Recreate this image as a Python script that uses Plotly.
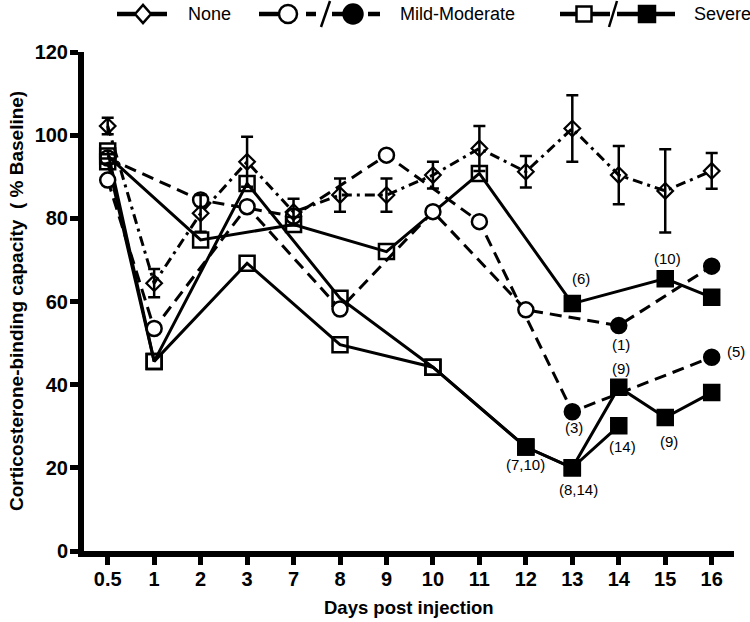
import plotly.graph_objects as go

# ---------------- data ----------------
DAYS = ["0.5", "1", "2", "3", "7", "8", "9", "10", "11", "12", "13", "14", "15", "16"]
Y_TICKS = [0, 20, 40, 60, 80, 100, 120]

# "None" group: mean and error
NONE_MEAN = [102.2, 64.4, 81.2, 93.6, 81.5, 85.6, 85.6, 90.4, 96.8, 91.2, 101.6, 90.4, 86.6, 91.4]
NONE_ERR = [2.0, 3.4, 4.4, 6.0, 3.2, 4.0, 4.0, 3.2, 5.4, 3.8, 8.0, 7.0, 10.0, 4.3]

# Mild-Moderate (dashed, circles) - open then filled
MM_A_DAYS = ["0.5", "2", "7", "9", "11", "13", "16"]
MM_A_VALS = [94.5, 84.4, 80.5, 95.2, 79.2, 33.5, 46.6]
MM_A_FILLED = [False, False, False, False, False, True, True]

MM_B_DAYS = ["0.5", "1", "3", "8", "10", "12", "14", "16"]
MM_B_VALS = [89.2, 53.5, 82.8, 58.2, 81.6, 58.0, 54.2, 68.5]
MM_B_FILLED = [False, False, False, False, False, False, True, True]

# Severe (solid, squares) - open then filled
SV_A_DAYS = ["0.5", "2", "7", "9", "11", "13", "15", "16"]
SV_A_VALS = [95.0, 74.8, 78.5, 72.0, 90.8, 59.5, 65.5, 61.0]
SV_A_FILLED = [False, False, False, False, False, True, True, True]

SV_B_DAYS = ["0.5", "1", "3", "8", "10", "12", "13", "14", "15", "16"]
SV_B_VALS = [96.2, 45.6, 69.2, 49.6, 44.2, 25.0, 20.0, 39.4, 32.1, 38.1]
SV_B_FILLED = [False, False, False, False, False, True, True, True, True, True]

SV_C_DAYS = ["0.5", "1", "3", "8", "10", "12", "13", "14"]
SV_C_VALS = [93.6, 45.6, 88.4, 60.8, 44.2, 25.0, 20.0, 30.1]
SV_C_FILLED = [False, False, False, False, False, True, True, True]

# point labels
LABEL_TEXT = ["(6)", "(10)", "(1)", "(5)", "(9)", "(3)", "(14)", "(9)", "(7,10)", "(8,14)"]
LABEL_DAY = ["13", "15", "14", "16", "14", "13", "14", "15", "12", "13"]
LABEL_Y = [65.6, 70.4, 49.7, 48.0, 44.0, 29.6, 25.2, 26.4, 20.8, 14.8]
LABEL_XSHIFT = [9, 2, 2, 24, 2, 2, 4, 4, 0, 6]

# ---------------- styling ----------------
FONT = "Liberation Sans, Arial, sans-serif"
DASH = "12px,7px"
DASHDOT = "10px,5px,3px,5px"
LW = 3

fig = go.Figure()


def circle_trace(days, vals, filled):
    return go.Scatter(
        x=days, y=vals, mode="lines+markers",
        line=dict(color="black", width=LW, dash=DASH),
        marker=dict(symbol="circle", size=15,
                    color=["black" if f else "white" for f in filled],
                    line=dict(color="black", width=2.5)),
        showlegend=False, hoverinfo="skip")


def square_trace(days, vals, filled):
    return go.Scatter(
        x=days, y=vals, mode="lines+markers",
        line=dict(color="black", width=LW),
        marker=dict(symbol=["square" if f else "square-open" for f in filled],
                    size=15, color="black",
                    line=dict(color="black", width=2.5)),
        showlegend=False, hoverinfo="skip")


fig.add_trace(circle_trace(MM_A_DAYS, MM_A_VALS, MM_A_FILLED))

fig.add_trace(go.Scatter(
    x=DAYS, y=NONE_MEAN, mode="lines+markers",
    line=dict(color="black", width=LW, dash=DASHDOT),
    marker=dict(symbol="diamond-open", size=12, color="black",
                line=dict(color="black", width=2.2)),
    error_y=dict(type="data", array=NONE_ERR, visible=True,
                 color="black", thickness=2.5, width=6),
    showlegend=False, hoverinfo="skip"))

fig.add_trace(square_trace(SV_C_DAYS, SV_C_VALS, SV_C_FILLED))
fig.add_trace(square_trace(SV_B_DAYS, SV_B_VALS, SV_B_FILLED))
fig.add_trace(square_trace(SV_A_DAYS, SV_A_VALS, SV_A_FILLED))
fig.add_trace(circle_trace(MM_B_DAYS, MM_B_VALS, MM_B_FILLED))

# point labels (category axis: annotation x given as category index)
annotations = []
for t, d, yv, xs in zip(LABEL_TEXT, LABEL_DAY, LABEL_Y, LABEL_XSHIFT):
    annotations.append(dict(x=DAYS.index(d), y=yv, xref="x", yref="y", text=t,
                            showarrow=False, xshift=xs,
                            xanchor="center", yanchor="middle",
                            font=dict(family=FONT, size=15, color="black")))

# ---------------- layout geometry ----------------
L, R, T, B = 84, 16, 52, 71
W = 750 - L - R
H = 622 - T - B
BOTTOM = 622 - B


def lx(px):
    return (px - L) / W


def ly(py):
    return (BOTTOM - py) / H


# axis titles
annotations.append(dict(x=lx(16.5), y=0.5, xref="paper", yref="paper",
                        text="Corticosterone-binding capacity  ( % Baseline)",
                        textangle=-90, showarrow=False, xanchor="center", yanchor="middle",
                        font=dict(family=FONT, size=19, color="black", weight="bold")))
annotations.append(dict(x=0.5, y=ly(607), xref="paper", yref="paper",
                        text="Days post injection", showarrow=False,
                        xanchor="center", yanchor="middle",
                        font=dict(family=FONT, size=18.5, color="black", weight="bold")))

# legend (manual)
LEG_Y = 14
legend_texts = [("None", 186), ("Mild-Moderate", 398), ("Severe", 692)]
for txt, px in legend_texts:
    annotations.append(dict(x=lx(px), y=ly(LEG_Y), xref="paper", yref="paper",
                            text=txt, showarrow=False, xanchor="left", yanchor="middle",
                            font=dict(family=FONT, size=18, color="black")))

shapes = []


def seg(x0, x1, w=4.5):
    shapes.append(dict(type="line", xref="paper", yref="paper",
                       x0=lx(x0), x1=lx(x1), y0=ly(LEG_Y), y1=ly(LEG_Y),
                       line=dict(color="black", width=w)))


def slash(xb, xt):
    shapes.append(dict(type="line", xref="paper", yref="paper",
                       x0=lx(xb), x1=lx(xt), y0=ly(LEG_Y + 13), y1=ly(LEG_Y - 13),
                       line=dict(color="black", width=2.5)))


def circ(cx, r, fill):
    shapes.append(dict(type="circle", xref="paper", yref="paper",
                       xsizemode="pixel", ysizemode="pixel",
                       xanchor=lx(cx), yanchor=ly(LEG_Y),
                       x0=-r, x1=r, y0=-r, y1=r,
                       fillcolor=fill, line=dict(color="black", width=2.5)))


def rect(cx, h, fill):
    shapes.append(dict(type="rect", xref="paper", yref="paper",
                       xsizemode="pixel", ysizemode="pixel",
                       xanchor=lx(cx), yanchor=ly(LEG_Y),
                       x0=-h, x1=h, y0=-h, y1=h,
                       fillcolor=fill, line=dict(color="black", width=2.5)))


# None
seg(117, 135)
seg(151, 167)
shapes.append(dict(type="path", xref="paper", yref="paper",
                   xsizemode="pixel", ysizemode="pixel",
                   xanchor=lx(143), yanchor=ly(LEG_Y),
                   path="M -8,0 L 0,9 L 8,0 L 0,-9 Z",
                   fillcolor="rgba(0,0,0,0)", line=dict(color="black", width=2.5)))
# Mild-Moderate
seg(259, 279)
circ(288, 9, "white")
seg(306, 316)
slash(321, 330)
seg(332, 344)
circ(353, 9.5, "black")
seg(368, 380)
# Severe
seg(560, 610)
rect(584, 7.5, "white")
slash(609, 617)
seg(617, 675)
rect(647, 8, "black")

fig.update_layout(
    width=750, height=622,
    margin=dict(l=L, r=R, t=T, b=B, pad=0),
    paper_bgcolor="white", plot_bgcolor="white",
    showlegend=False,
    annotations=annotations,
    shapes=shapes,
    xaxis=dict(type="category", categoryorder="array", categoryarray=DAYS,
               range=[-0.51, 13.48], showline=True, linewidth=6, linecolor="black",
               ticks="outside", ticklen=8, tickwidth=5, tickcolor="black",
               showgrid=False, zeroline=False, ticklabelstandoff=-3,
               tickfont=dict(family=FONT, size=20, color="black", weight="bold")),
    yaxis=dict(range=[0, 120], tickmode="array", tickvals=Y_TICKS,
               ticktext=[str(v) for v in Y_TICKS],
               showline=True, linewidth=6, linecolor="black",
               ticks="outside", ticklen=8, tickwidth=5, tickcolor="black",
               showgrid=False, zeroline=False, ticklabelstandoff=-2,
               tickfont=dict(family=FONT, size=20, color="black", weight="bold")),
)

fig.write_html("out.html", config={"displayModeBar": False},
               post_script="document.body.style.margin='0px';document.body.style.padding='0px';")
